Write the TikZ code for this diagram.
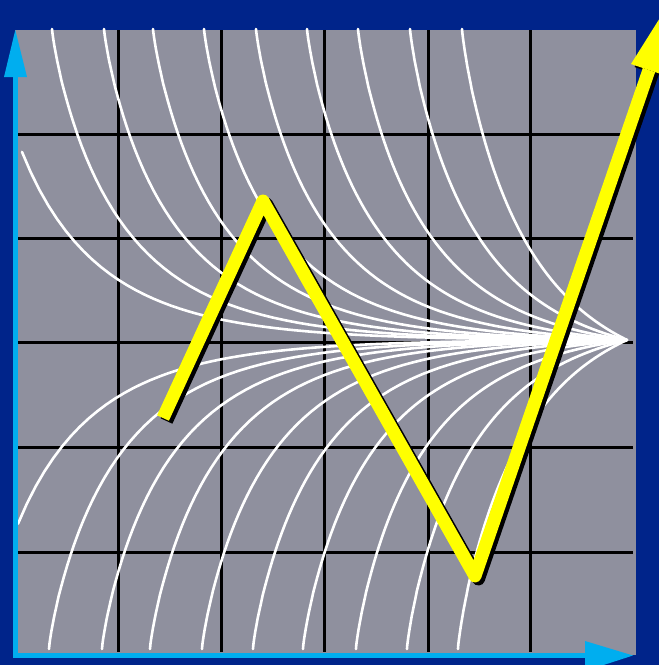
\documentclass[tikz,border=0pt]{standalone}
\usetikzlibrary{calc}
\definecolor{bgblue}{RGB}{0,36,138}
\definecolor{panelgray}{RGB}{143,144,158}
\definecolor{axiscyan}{RGB}{0,174,239}
\definecolor{zzyellow}{RGB}{255,255,0}
\begin{document}
\begin{tikzpicture}[x=1pt,y=-1pt,
  gridline/.style={black,line width=3pt},
  fline/.style={white,line width=2.6pt,line join=round,line cap=round},
  axisline/.style={axiscyan,line width=5pt},
  zzline/.style={line width=13pt,line join=round},
  declare function={fdecay(\u)=exp(-pow(\u/72,0.85));}
]
\useasboundingbox (0,0) rectangle (659,665);
\clip (0,0) rectangle (659,665);
\fill[bgblue] (0,0) rectangle (659,665);
\fill[panelgray] (15,30) rectangle (636,655);
% grid
\foreach \gx in {118,221,324,428,530} \draw[gridline] (\gx,30) -- (\gx,652);
\foreach \gy in {134,238,342,447,552} \draw[gridline] (18,\gy) -- (633,\gy);
% field lines from top
\foreach \xo in {52,104,153,204,256,307,358,410,462}{
  \pgfmathsetmacro\L{627-\xo}
  \pgfmathsetmacro\EL{fdecay(\L)}
  \draw[fline] (\xo,29) -- plot[variable=\s,domain=0.03:1,samples=60]
    ({\xo+\L*\s*\s},{340-311*(fdecay(\L*\s*\s)-\EL)/(1-\EL)});
}
% field lines from bottom
\foreach \xo in {49,102,150,202,253,303,356,407,458}{
  \pgfmathsetmacro\L{627-\xo}
  \pgfmathsetmacro\EL{fdecay(\L)}
  \draw[fline] (\xo,649) -- plot[variable=\s,domain=0.03:1,samples=60]
    ({\xo+\L*\s*\s},{340+308*(fdecay(\L*\s*\s)-\EL)/(1-\EL)});
}
% field lines from left edge
\pgfmathsetmacro\ELa{fdecay(637)}
\draw[fline] plot[domain=22:627,samples=70] (\x,{340-311*(fdecay(\x+10)-\ELa)/(1-\ELa)});
\pgfmathsetmacro\ELb{fdecay(642)}
\draw[fline] plot[domain=18:627,samples=70] (\x,{340+308*(fdecay(\x+15)-\ELb)/(1-\ELb)});
% axes
\coordinate (yb) at (15.5,658);
\coordinate (ys) at (15.5,74);
\coordinate (xb) at (13,655.5);
\coordinate (xs) at (587,655.5);
\draw[axisline] (yb) -- (ys);
\fill[axiscyan] (15.3,30) -- (27,77) -- (4,77) -- cycle;
\draw[axisline] (xb) -- (xs);
\fill[axiscyan] (633,655.5) -- (585,671) -- (585,641) -- cycle;
% yellow zigzag
\coordinate (z1) at (163,418);
\coordinate (z2) at (263,201);
\coordinate (z3) at (475,576);
\coordinate (zb) at (649,70);
\coordinate (zl) at (631,64);
\coordinate (zr) at (667,76);
\coordinate (zt) at (675,-6);
\begin{scope}[transform canvas={shift={(3.5,3)}}]
  \draw[zzline,black] (z1) -- (z2) -- (z3) -- (zb);
  \fill[black] (zl) -- (zt) -- (zr) -- cycle;
\end{scope}
\draw[zzline,zzyellow] (z1) -- (z2) -- (z3) -- (zb);
\fill[zzyellow] (zl) -- (zt) -- (zr) -- cycle;
\end{tikzpicture}
\end{document}
